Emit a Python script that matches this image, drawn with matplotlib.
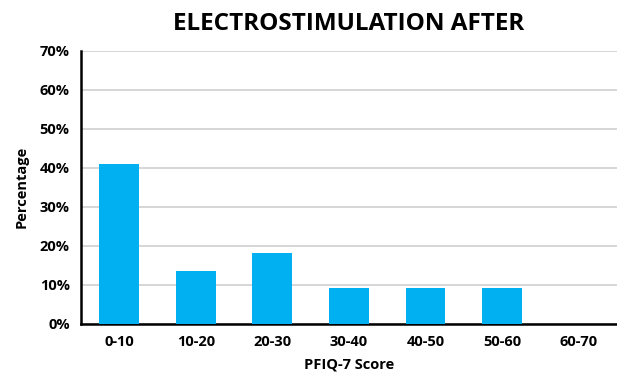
import matplotlib
matplotlib.use("Agg")
import matplotlib.pyplot as plt
from matplotlib.ticker import PercentFormatter

# PFIQ-7 score bins and share of patients (%)
categories = ["0-10", "10-20", "20-30", "30-40", "40-50", "50-60", "60-70"]
percentages = [40.9, 13.6, 18.2, 9.1, 9.1, 9.1, 0.0]
y_ticks = [0, 10, 20, 30, 40, 50, 60, 70]

plt.rcParams['font.family'] = ['Open Sans', 'DejaVu Sans']
plt.rcParams['font.weight'] = 'bold'

fig = plt.figure(figsize=(6.17, 3.74), dpi=100)
ax = fig.add_axes([0.131, 0.134, 0.869, 0.730])

x = range(len(categories))
ax.bar(x, percentages, width=0.52, color="#00B0F0", zorder=3)

ax.set_xlim(-0.5, len(categories) - 0.5)
ax.set_ylim(0, 70)
ax.set_yticks(y_ticks)
ax.yaxis.set_major_formatter(PercentFormatter(decimals=0))
ax.set_xticks(list(x))
ax.set_xticklabels(categories)

ax.grid(axis='y', color='#d0d0d0', linewidth=1.2, zorder=0)
ax.tick_params(axis='both', length=0, labelsize=10.5, pad=8)
for lbl in ax.get_xticklabels() + ax.get_yticklabels():
    lbl.set_fontweight('bold')

for s in ['top', 'right']:
    ax.spines[s].set_visible(False)
ax.spines['left'].set_linewidth(1.8)
ax.spines['bottom'].set_linewidth(1.8)

ax.set_ylabel("Percentage", fontsize=10.5, fontweight='bold', labelpad=8)
ax.set_xlabel("PFIQ-7 Score", fontsize=10.5, fontweight='bold', labelpad=6)
ax.set_title("ELECTROSTIMULATION AFTER", fontsize=17.5, fontweight='bold', pad=15)

fig.savefig("out.png", dpi=100)
